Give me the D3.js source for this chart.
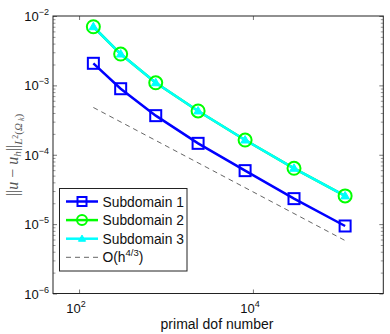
<!DOCTYPE html>
<html>
<head>
<meta charset="utf-8">
<script src="https://cdn.jsdelivr.net/npm/d3@7/dist/d3.min.js"></script>
<style>
  body { margin: 0; background: #fff; }
  svg { display: block; font-family: "Liberation Sans", Arial, sans-serif; }
</style>
</head>
<body>
<script>
// valores
var dofs = [146, 301, 762, 2340, 8130, 29700, 115000];
var sub1 = [2.08e-3, 8.95e-4, 3.66e-4, 1.46e-4, 5.9e-5, 2.33e-5, 9.4e-6];
var sub2 = [7.0e-3, 2.83e-3, 1.09e-3, 4.28e-4, 1.63e-4, 6.38e-5, 2.55e-5];
var sub3 = [7.0e-3, 2.83e-3, 1.09e-3, 4.28e-4, 1.63e-4, 6.38e-5, 2.55e-5];
var refDofs = [146, 115000];
var refVals = [4.8e-4, 5.8e-6];
var xTickVals = [1e2, 1e4];
var xTickExp = ["2", "4"];
var yTickVals = [1e-6, 1e-5, 1e-4, 1e-3, 1e-2];
var yTickExp = ["\u22126", "\u22125", "\u22124", "\u22123", "\u22122"];
var legendNames = ["Subdomain 1", "Subdomain 2", "Subdomain 3", "O(h"];

var width = 390;
var height = 334;
var margen = { arriba: 16, abajo: 40.5, izquierda: 53, derecha: 6.7 };

var escalaX = d3.scaleLog()
    .domain([Math.pow(10, 1.7), Math.pow(10, 5.5)])
    .range([margen.izquierda, width - margen.derecha]);

var escalaY = d3.scaleLog()
    .domain([1e-6, 1e-2])
    .range([height - margen.abajo, margen.arriba]);

var svg = d3.select("body").append("svg")
    .attr("width", width)
    .attr("height", height);

// ticks menores
var menores = [];
yTickVals.slice(0, 4).forEach(function (d) {
    for (var k = 2; k <= 9; k++) menores.push(d * k);
});

svg.append("g")
    .attr("transform", "translate(" + margen.izquierda + ",0)")
    .call(d3.axisRight(escalaY).tickValues(menores).tickSize(2.5).tickFormat(""))
    .call(g => g.select(".domain").remove())
    .call(g => g.selectAll("line").attr("stroke", "#999"));
svg.append("g")
    .attr("transform", "translate(" + (width - margen.derecha) + ",0)")
    .call(d3.axisLeft(escalaY).tickValues(menores).tickSize(2.5).tickFormat(""))
    .call(g => g.select(".domain").remove())
    .call(g => g.selectAll("line").attr("stroke", "#999"));

// ticks mayores
svg.append("g")
    .attr("transform", "translate(" + margen.izquierda + ",0)")
    .call(d3.axisRight(escalaY).tickValues(yTickVals).tickSize(4).tickFormat(""))
    .call(g => g.select(".domain").remove())
    .call(g => g.selectAll("line").attr("stroke", "#777"));
svg.append("g")
    .attr("transform", "translate(" + (width - margen.derecha) + ",0)")
    .call(d3.axisLeft(escalaY).tickValues(yTickVals).tickSize(4).tickFormat(""))
    .call(g => g.select(".domain").remove())
    .call(g => g.selectAll("line").attr("stroke", "#777"));
svg.append("g")
    .attr("transform", "translate(0," + (height - margen.abajo) + ")")
    .call(d3.axisTop(escalaX).tickValues(xTickVals).tickSize(4).tickFormat(""))
    .call(g => g.select(".domain").remove())
    .call(g => g.selectAll("line").attr("stroke", "#777"));
svg.append("g")
    .attr("transform", "translate(0," + margen.arriba + ")")
    .call(d3.axisBottom(escalaX).tickValues(xTickVals).tickSize(4).tickFormat(""))
    .call(g => g.select(".domain").remove())
    .call(g => g.selectAll("line").attr("stroke", "#777"));

// marco
svg.append("rect")
    .attr("x", margen.izquierda)
    .attr("y", margen.arriba)
    .attr("width", width - margen.derecha - margen.izquierda)
    .attr("height", height - margen.abajo - margen.arriba)
    .attr("fill", "none")
    .attr("stroke", "#222")
    .attr("stroke-width", 1);

// etiquetas de ticks Y
var etiquetasY = svg.append("g");
yTickVals.forEach(function (d, i) {
    var t = etiquetasY.append("text")
        .attr("x", 49)
        .attr("y", escalaY(d) + 5)
        .attr("text-anchor", "end")
        .attr("font-size", 13)
        .attr("fill", "#111");
    t.append("tspan").text("10");
    t.append("tspan").attr("dy", -6).attr("font-size", 9).text(yTickExp[i]);
});

// etiquetas de ticks X
xTickVals.forEach(function (d, i) {
    var t = svg.append("text")
        .attr("x", escalaX(d) - 3)
        .attr("y", 313)
        .attr("text-anchor", "middle")
        .attr("font-size", 13)
        .attr("fill", "#111");
    t.append("tspan").text("10");
    t.append("tspan").attr("dy", -6).attr("font-size", 9).text(xTickExp[i]);
});

svg.append("text")
    .attr("x", 217)
    .attr("y", 329)
    .attr("text-anchor", "middle")
    .attr("font-size", 14)
    .attr("fill", "#111")
    .text("primal dof number");

// etiqueta eje Y
var etY = svg.append("text")
    .attr("transform", "translate(18,155) rotate(-90)")
    .attr("text-anchor", "middle")
    .attr("font-family", "'Liberation Serif', 'DejaVu Serif', serif")
    .attr("font-size", 16)
    .attr("fill", "#555");
etY.append("tspan").text("||");
etY.append("tspan").attr("font-style", "italic").text("u");
etY.append("tspan").text(" \u2212 ");
etY.append("tspan").attr("font-style", "italic").text("u");
etY.append("tspan").attr("font-style", "italic").attr("font-size", 11).attr("dy", 3).text("h");
etY.append("tspan").attr("dy", -3).text("||");
etY.append("tspan").attr("font-style", "italic").attr("font-size", 11).attr("dy", 4).text("L");
etY.append("tspan").attr("font-size", 8).attr("dy", -4).text("2");
etY.append("tspan").attr("font-size", 11).attr("dy", 4).text("(");
etY.append("tspan").attr("font-style", "italic").attr("font-size", 11).text("\u03a9");
etY.append("tspan").attr("font-style", "italic").attr("font-size", 8).attr("dy", 2).text(" k");
etY.append("tspan").attr("font-size", 11).attr("dy", -2).text(")");

// series
var linea = d3.line()
    .x(function (d) { return escalaX(d[0]); })
    .y(function (d) { return escalaY(d[1]); });

var plot = svg.append("g");

plot.append("path")
    .datum(d3.zip(refDofs, refVals))
    .attr("d", linea)
    .attr("fill", "none")
    .attr("stroke", "#555")
    .attr("stroke-width", 0.9)
    .attr("stroke-dasharray", "5,4");

plot.append("path")
    .datum(d3.zip(dofs, sub1))
    .attr("d", linea)
    .attr("fill", "none")
    .attr("stroke", "#0000ff")
    .attr("stroke-width", 2.5);

plot.append("path")
    .datum(d3.zip(dofs, sub2))
    .attr("d", linea)
    .attr("fill", "none")
    .attr("stroke", "#00ff00")
    .attr("stroke-width", 2.5);

plot.append("path")
    .datum(d3.zip(dofs, sub3))
    .attr("d", linea)
    .attr("fill", "none")
    .attr("stroke", "#00ffff")
    .attr("stroke-width", 2.5);

plot.selectAll(".cuadrado")
    .data(d3.zip(dofs, sub1))
    .join("rect")
    .attr("class", "cuadrado")
    .attr("x", d => escalaX(d[0]) - 5.5)
    .attr("y", d => escalaY(d[1]) - 5.5)
    .attr("width", 11)
    .attr("height", 11)
    .attr("fill", "none")
    .attr("stroke", "#0000ff")
    .attr("stroke-width", 2);

plot.selectAll(".circulo")
    .data(d3.zip(dofs, sub2))
    .join("circle")
    .attr("class", "circulo")
    .attr("cx", d => escalaX(d[0]))
    .attr("cy", d => escalaY(d[1]))
    .attr("r", 6.5)
    .attr("fill", "none")
    .attr("stroke", "#00ff00")
    .attr("stroke-width", 2);

var triangulo = d3.symbol().type(d3.symbolTriangle).size(32);
plot.selectAll(".triangulo")
    .data(d3.zip(dofs, sub3))
    .join("path")
    .attr("class", "triangulo")
    .attr("d", triangulo)
    .attr("transform", d => "translate(" + escalaX(d[0]) + "," + (escalaY(d[1]) + 0.5) + ")")
    .attr("fill", "#00ffff")
    .attr("stroke", "#00ffff")
    .attr("stroke-width", 1);

// leyenda
var leyenda = svg.append("g");
leyenda.append("rect")
    .attr("x", 59.5)
    .attr("y", 188.5)
    .attr("width", 127.5)
    .attr("height", 82.5)
    .attr("fill", "#fff")
    .attr("stroke", "#222")
    .attr("stroke-width", 1);

var colores = ["#0000ff", "#00ff00", "#00ffff", "#555"];
legendNames.forEach(function (nombre, i) {
    var yy = 201.5 + i * 18.6;
    var ln = leyenda.append("line")
        .attr("x1", 66).attr("x2", 98)
        .attr("y1", yy).attr("y2", yy)
        .attr("stroke", colores[i])
        .attr("stroke-width", i < 3 ? 2.5 : 0.9);
    if (i === 3) ln.attr("stroke-dasharray", "5,4");
    if (i === 0) {
        leyenda.append("rect").attr("x", 82 - 4.5).attr("y", yy - 4.5)
            .attr("width", 9).attr("height", 9)
            .attr("fill", "none").attr("stroke", colores[0]).attr("stroke-width", 2);
    } else if (i === 1) {
        leyenda.append("circle").attr("cx", 82).attr("cy", yy).attr("r", 5)
            .attr("fill", "none").attr("stroke", colores[1]).attr("stroke-width", 2);
    } else if (i === 2) {
        leyenda.append("path").attr("d", d3.symbol().type(d3.symbolTriangle).size(22))
            .attr("transform", "translate(82," + (yy + 0.5) + ")")
            .attr("fill", colores[2]).attr("stroke", colores[2]);
    }
    var t = leyenda.append("text")
        .attr("x", 102.5)
        .attr("y", yy + 5)
        .attr("font-size", 13.8)
        .attr("fill", "#111")
        .text(nombre);
    if (i === 3) {
        t.append("tspan").attr("dy", -6).attr("font-size", 9.5).text("4/3");
        t.append("tspan").attr("dy", 6).text(")");
    }
});
</script>
</body>
</html>
